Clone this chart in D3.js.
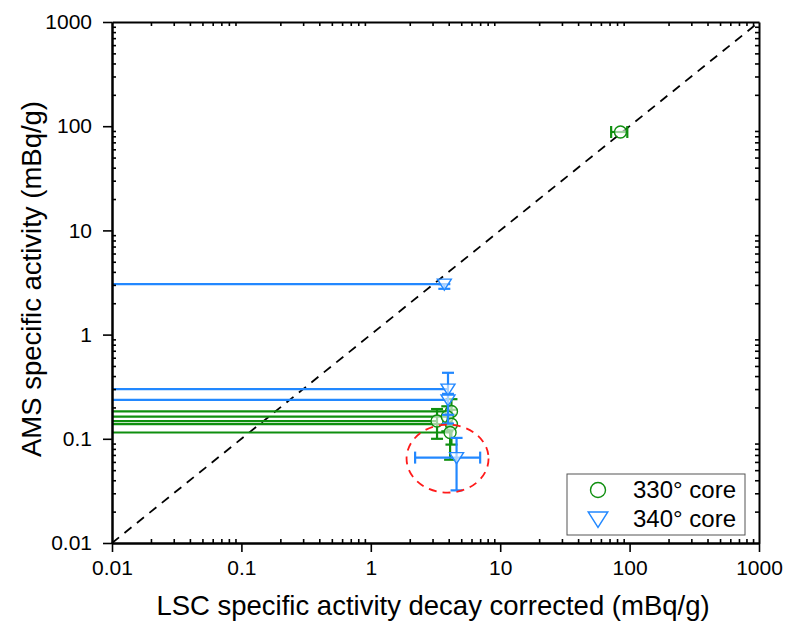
<!DOCTYPE html>
<html>
<head>
<meta charset="utf-8">
<script src="https://cdn.jsdelivr.net/npm/d3@7"></script>
<style>
  body { margin: 0; background: #fff; }
  text { font-family: Arial, "Liberation Sans", sans-serif; }
</style>
</head>
<body>
<script>
// values (mBq/g)
// 330 deg core
var core330X = [85, 3.25, 4.2, 3.9, 4.2, 4.1];
var core330Y = [88, 0.148, 0.183, 0.163, 0.138, 0.115];
var core330XLow = [72, 0.001, 0.001, 0.001, 0.001, 0.001];
var core330XHigh = [96, 3.25, 4.2, 3.9, 4.2, 4.1];
var core330YLow = [88, 0.10, 0.135, 0.118, 0.088, 0.063];
var core330YHigh = [88, 0.193, 0.24, 0.205, 0.19, 0.17];

// 340 deg core
var core340X = [3.7, 3.95, 3.95, 4.6];
var core340Y = [3.05, 0.30, 0.236, 0.066];
var core340XLow = [0.001, 0.001, 0.001, 2.2];
var core340XHigh = [3.7, 3.95, 3.95, 7.0];
var core340YLow = [2.75, 0.17, 0.14, 0.032];
var core340YHigh = [3.05, 0.43, 0.27, 0.102];

var seriesNames = ["330\u00b0 core", "340\u00b0 core"];
var majorTicks = [0.01, 0.1, 1, 10, 100, 1000];
var tickLabels = ["0.01", "0.1", "1", "10", "100", "1000"];

// highlighted outlier (centre in data units)
var circledX = 4.6, circledY = 0.066;

var w = 787, h = 626;
var padLeft = 112, padRight = 759, padTop = 22, padBottom = 543;
var green = "#0f8f0f", blue = "#2288ff";

var svg = d3.select("body").append("svg")
  .attr("width", w)
  .attr("height", h);

var x = d3.scaleLog().domain([0.01, 1000]).range([padLeft, padRight]);
var y = d3.scaleLog().domain([0.01, 1000]).range([padBottom, padTop]);

var minorTicks = x.ticks().filter(function(d) {
  return majorTicks.indexOf(d) < 0;
});

//y = x reference line
svg.append("line")
  .attr("x1", x(0.01)).attr("y1", y(0.01))
  .attr("x2", x(1000)).attr("y2", y(1000))
  .attr("stroke", "black")
  .attr("stroke-width", 1.8)
  .attr("stroke-dasharray", "9,7");

// clamp to the frame so bars that run off the axis stop at it
function cx(v) { return x(Math.max(v, 0.01)); }

function drawSeries(xs, ys, xlo, xhi, ylo, yhi, color, marker) {
  var g = svg.append("g");
  var cap = 6;
  xs.forEach(function(d, i) {
    // horizontal error / drop line
    g.append("line")
      .attr("x1", cx(xlo[i])).attr("x2", cx(xhi[i]))
      .attr("y1", y(ys[i])).attr("y2", y(ys[i]))
      .attr("stroke", color).attr("stroke-width", 2.2);
    [xlo[i], xhi[i]].forEach(function(v) {
      if (v > 0.01 && v !== d) {
        g.append("line")
          .attr("x1", x(v)).attr("x2", x(v))
          .attr("y1", y(ys[i]) - cap).attr("y2", y(ys[i]) + cap)
          .attr("stroke", color).attr("stroke-width", 2.2);
      }
    });
    // vertical error bar
    if (ylo[i] !== yhi[i]) {
      g.append("line")
        .attr("x1", x(d)).attr("x2", x(d))
        .attr("y1", y(ylo[i])).attr("y2", y(yhi[i]))
        .attr("stroke", color).attr("stroke-width", 2.2);
      [ylo[i], yhi[i]].forEach(function(v) {
        g.append("line")
          .attr("x1", x(d) - cap).attr("x2", x(d) + cap)
          .attr("y1", y(v)).attr("y2", y(v))
          .attr("stroke", color).attr("stroke-width", 2.2);
      });
    }
  });
  xs.forEach(function(d, i) {
    marker(g, x(d), y(ys[i]), 1);
  });
}

function circleMarker(g, px, py, s) {
  g.append("circle")
    .attr("cx", px).attr("cy", py).attr("r", 6 * s)
    .attr("fill", "white").attr("fill-opacity", 0.6)
    .attr("stroke", green).attr("stroke-width", 1.4);
}

function triangleMarker(g, px, py, s) {
  g.append("path")
    .attr("transform", "translate(" + px + "," + py + ") scale(" + s + ")")
    .attr("d", "M-7,-5L7,-5L0,6Z")
    .attr("fill", "white").attr("fill-opacity", 0.6)
    .attr("stroke", blue).attr("stroke-width", 1.4 / s);
}

drawSeries(core330X, core330Y, core330XLow, core330XHigh, core330YLow, core330YHigh, green, circleMarker);
drawSeries(core340X, core340Y, core340XLow, core340XHigh, core340YLow, core340YHigh, blue, triangleMarker);

// red dashed ring round the outlier
svg.append("ellipse")
  .attr("cx", x(circledX) - 9).attr("cy", y(circledY) + 1)
  .attr("rx", 41).attr("ry", 34)
  .attr("fill", "none")
  .attr("stroke", "#ff1a1a")
  .attr("stroke-width", 1.8)
  .attr("stroke-dasharray", "8,6");

// axes: majors outward with labels, minors inward, mirrored on top/right
function styleAxis(sel) {
  sel.selectAll("path").attr("stroke-width", 2);
  sel.selectAll("line").attr("stroke-width", 1.6);
  sel.selectAll("text").attr("font-size", 21).attr("fill", "black");
}

svg.append("g")
  .attr("transform", "translate(0," + padBottom + ")")
  .call(d3.axisBottom(x).tickValues(majorTicks).tickSize(9).tickSizeOuter(0).tickPadding(8)
    .tickFormat(function(d, i) { return tickLabels[i]; }))
  .call(styleAxis);
svg.append("g")
  .attr("transform", "translate(0," + padBottom + ")")
  .call(d3.axisBottom(x).tickValues(minorTicks).tickSize(-4).tickSizeOuter(0).tickFormat(""))
  .call(styleAxis);

svg.append("g")
  .attr("transform", "translate(" + padLeft + ",0)")
  .call(d3.axisLeft(y).tickValues(majorTicks).tickSize(9).tickSizeOuter(0).tickPadding(11)
    .tickFormat(function(d, i) { return tickLabels[i]; }))
  .call(styleAxis);
svg.append("g")
  .attr("transform", "translate(" + padLeft + ",0)")
  .call(d3.axisLeft(y).tickValues(minorTicks).tickSize(-4).tickSizeOuter(0).tickFormat(""))
  .call(styleAxis);

svg.append("g")
  .attr("transform", "translate(0," + padTop + ")")
  .call(d3.axisTop(x).tickValues(minorTicks).tickSize(-4).tickSizeOuter(0).tickFormat(""))
  .call(styleAxis);
svg.append("g")
  .attr("transform", "translate(" + padRight + ",0)")
  .call(d3.axisRight(y).tickValues(minorTicks).tickSize(-4).tickSizeOuter(0).tickFormat(""))
  .call(styleAxis);

// axis titles
svg.append("text")
  .attr("x", 433)
  .attr("y", 615)
  .attr("text-anchor", "middle")
  .attr("font-size", 27.5)
  .text("LSC specific activity decay corrected (mBq/g)");

svg.append("text")
  .attr("transform", "translate(41,279) rotate(-90)")
  .attr("text-anchor", "middle")
  .attr("font-size", 27.5)
  .text("AMS specific activity (mBq/g)");

// legend
var lg = svg.append("g").attr("transform", "translate(567,474)");
lg.append("rect")
  .attr("width", 178).attr("height", 61)
  .attr("fill", "white")
  .attr("stroke", "#555").attr("stroke-width", 1);
circleMarker(lg, 31, 16, 1.25);
triangleMarker(lg, 31, 45, 1.4);
lg.selectAll("text.leg")
  .data(seriesNames)
  .enter()
  .append("text")
  .attr("class", "leg")
  .attr("x", 66)
  .attr("y", function(d, i) { return 24 + i * 29; })
  .attr("font-size", 24)
  .text(function(d) { return d; });
</script>
</body>
</html>
